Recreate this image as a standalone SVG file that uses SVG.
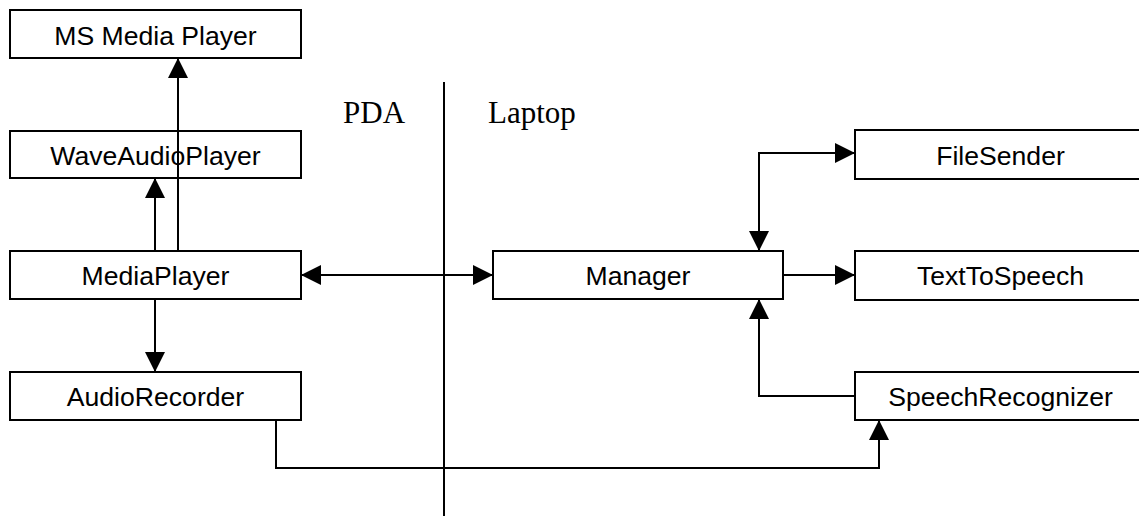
<svg xmlns="http://www.w3.org/2000/svg" width="1139" height="516" viewBox="0 0 1139 516">
  <style>
    .box { fill: #ffffff; stroke: #000000; stroke-width: 2; }
    .label { font-family: "Liberation Sans", Arial, sans-serif; font-size: 26.6px; fill: #000000; text-anchor: middle; }
    .zone { font-family: "Liberation Serif", "Times New Roman", serif; font-size: 31px; fill: #000000; }
    .wire { fill: none; stroke: #000000; stroke-width: 2; }
  </style>
  <defs>
    <marker id="arrow" markerUnits="userSpaceOnUse" markerWidth="20" markerHeight="20" refX="20" refY="10" orient="auto-start-reverse">
      <path d="M0,0 L20,10 L0,20 z" fill="#000000"/>
    </marker>
  </defs>
  <rect x="0" y="0" width="1139" height="516" fill="#ffffff"/>

  <!-- PDA / Laptop boundary -->
  <g id="boundary">
    <line x1="444" y1="82" x2="444" y2="516" stroke="#000000" stroke-width="2"/>
    <text class="zone" x="343" y="123">PDA</text>
    <text class="zone" x="488" y="123">Laptop</text>
  </g>

  <!-- PDA side -->
  <g id="ms-media-player">
    <rect class="box" x="10" y="10" width="291" height="48"/>
    <text class="label" x="155.5" y="44.5">MS Media Player</text>
  </g>
  <g id="wave-audio-player">
    <rect class="box" x="10" y="131" width="291" height="47"/>
    <text class="label" x="155.5" y="165">WaveAudioPlayer</text>
  </g>
  <g id="media-player">
    <rect class="box" x="10" y="251" width="291" height="48"/>
    <text class="label" x="155.5" y="285">MediaPlayer</text>
  </g>
  <g id="audio-recorder">
    <rect class="box" x="10" y="372" width="291" height="48"/>
    <text class="label" x="155.5" y="406">AudioRecorder</text>
  </g>

  <!-- Laptop side -->
  <g id="manager">
    <rect class="box" x="493" y="251" width="290" height="48"/>
    <text class="label" x="638" y="285">Manager</text>
  </g>
  <g id="file-sender">
    <rect class="box" x="855" y="130" width="291" height="49"/>
    <text class="label" x="1000.5" y="165">FileSender</text>
  </g>
  <g id="text-to-speech">
    <rect class="box" x="855" y="251" width="291" height="49"/>
    <text class="label" x="1000.5" y="285">TextToSpeech</text>
  </g>
  <g id="speech-recognizer">
    <rect class="box" x="855" y="372" width="291" height="48"/>
    <text class="label" x="1000.5" y="406">SpeechRecognizer</text>
  </g>

  <!-- connectors -->
  <g id="connectors">
    <path class="wire" d="M178,251 V58" marker-end="url(#arrow)"/>
    <path class="wire" d="M155,251 V178" marker-end="url(#arrow)"/>
    <path class="wire" d="M155,299 V372" marker-end="url(#arrow)"/>
    <path class="wire" d="M301,275 H493" marker-start="url(#arrow)" marker-end="url(#arrow)"/>
    <path class="wire" d="M759,251 V153 H855" marker-start="url(#arrow)" marker-end="url(#arrow)"/>
    <path class="wire" d="M783,275 H855" marker-end="url(#arrow)"/>
    <path class="wire" d="M855,396 H759 V299" marker-end="url(#arrow)"/>
    <path class="wire" d="M276,420 V468 H879 V420" marker-end="url(#arrow)"/>
  </g>
</svg>
